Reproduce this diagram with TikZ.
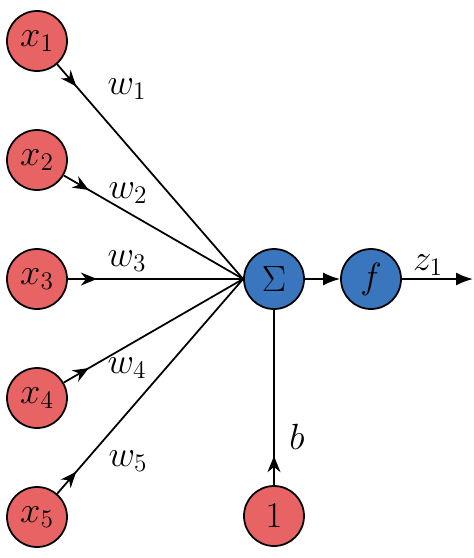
\documentclass[tikz,border=0pt]{standalone}
\usepackage{amsmath,amssymb}
\usepackage{tikz}
\usetikzlibrary{positioning}
\usetikzlibrary{arrows.meta}
\usetikzlibrary{decorations.markings}
\usepackage{xcolor}
\definecolor{inred}{RGB}{232,100,100}
\definecolor{sumblue}{RGB}{58,118,190}

\begin{document}
\begin{tikzpicture}[
reds/.style={circle,draw,line width=1pt,fill=inred,minimum size=1.2cm,inner sep=0pt,font=\fontsize{22}{26}\selectfont},
blues/.style={circle,draw,line width=1pt,fill=sumblue,minimum size=1.2cm,inner sep=0pt,font=\fontsize{22}{26}\selectfont},
wlabel/.style={font=\fontsize{22}{26}\selectfont},
inarrow/.style={line width=1pt,postaction={decorate},decoration={markings,mark=at position 0.58cm with {\arrow{Stealth[length=3.2mm,width=2.6mm]}}}},
outarrow/.style={line width=1pt,-{Latex[length=3.4mm,width=2.6mm]}}]
\useasboundingbox (0,0) rectangle (9.48,-11.16);

\foreach \xx in {1,...,5}
{\pgfmathsetmacro{\yy}{-0.82-2.38*(\xx-1)}
    \node [reds] (in-\xx) at (0.74,\yy) {$x_{\xx}$};}

\node [blues] (sum) at (5.48,-5.58) {$\Sigma$};
\node [blues] (act) at (7.42,-5.58) {$f$};
\node [reds] (one) at (5.48,-10.32) {$1$};
\coordinate (out) at (9.46,-5.58);

\node [wlabel] (w-1) at (2.54,-1.78) {$w_1$};
\node [wlabel] (w-2) at (2.56,-3.86) {$w_2$};
\node [wlabel] (w-3) at (2.54,-5.22) {$w_3$};
\node [wlabel] (w-4) at (2.54,-7.36) {$w_4$};
\node [wlabel] (w-5) at (2.56,-9.22) {$w_5$};
\node [wlabel] (bias) at (5.94,-8.74) {$b$};
\node [wlabel] (z-1) at (8.56,-5.3) {$z_1$};

\foreach \xx in {1,...,5}
    \draw [inarrow] (in-\xx)--(sum.west);
\draw [inarrow] (one)--(sum);
\draw [outarrow] (sum)--(act);
\draw [outarrow] (act)--(out);
\end{tikzpicture}
\end{document}
